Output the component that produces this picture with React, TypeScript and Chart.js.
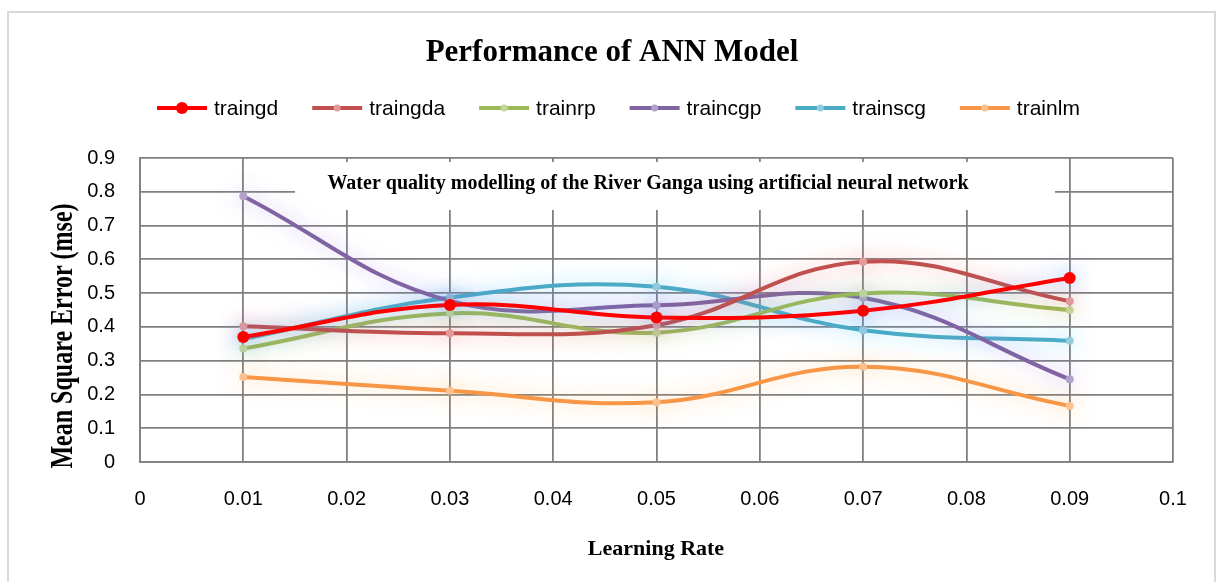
import React, { useEffect, useRef } from "react";
import { Chart, registerables } from "chart.js";

Chart.register(...registerables);

const learningRates = [0.01, 0.03, 0.05, 0.07, 0.09];
const traingd = [0.37, 0.465, 0.428, 0.448, 0.545];
const traingda = [0.402, 0.381, 0.405, 0.593, 0.476];
const trainrp = [0.336, 0.44, 0.383, 0.499, 0.45];
const traincgp = [0.787, 0.477, 0.464, 0.486, 0.245];
const trainscg = [0.364, 0.487, 0.519, 0.39, 0.359];
const trainlm = [0.252, 0.211, 0.177, 0.282, 0.166];

const seriesNames = ["traingd", "traingda", "trainrp", "traincgp", "trainscg", "trainlm"];
const seriesValues = [traingd, traingda, trainrp, traincgp, trainscg, trainlm];
const lineColors = ["#ff0000", "#c0504d", "#9bbb59", "#8064a2", "#4bacc6", "#f79646"];
const pointColors = ["#ff0000", "#e39a9a", "#c4d79b", "#b3a2c7", "#92cddc", "#fac08f"];
const glowColors = [
  "rgba(90,140,255,0.6)",
  "rgba(255,100,100,0.55)",
  "rgba(160,225,100,0.55)",
  "rgba(160,120,230,0.55)",
  "rgba(70,205,255,0.6)",
  "rgba(255,170,70,0.55)",
];

const xTickValues = [0, 0.01, 0.02, 0.03, 0.04, 0.05, 0.06, 0.07, 0.08, 0.09, 0.1];
const xTickLabels = ["0", "0.01", "0.02", "0.03", "0.04", "0.05", "0.06", "0.07", "0.08", "0.09", "0.1"];
const yTickValues = [0, 0.1, 0.2, 0.3, 0.4, 0.5, 0.6, 0.7, 0.8, 0.9];
const yTickLabels = ["0", "0.1", "0.2", "0.3", "0.4", "0.5", "0.6", "0.7", "0.8", "0.9"];

const chartTitle = "Performance of ANN Model";
const subTitle = "Water quality modelling of the River Ganga using artificial neural network";
const xTitle = "Learning Rate";
const yTitle = "Mean Square Error (mse)";

const SANS = "'Liberation Sans', Arial, sans-serif";
const SERIF = "'Liberation Serif', 'Times New Roman', serif";

const decorPlugin = {
  id: "decor",
  beforeDraw(chart: any) {
    const ctx = chart.ctx;
    ctx.save();
    ctx.fillStyle = "#ffffff";
    ctx.fillRect(0, 0, chart.width, chart.height);
    ctx.strokeStyle = "#d9d9d9";
    ctx.lineWidth = 2;
    ctx.strokeRect(8, 12, chart.width - 9, chart.height + 10);
    ctx.restore();
  },
  beforeDatasetsDraw(chart: any) {
    const ctx = chart.ctx;
    ctx.save();
    ctx.fillStyle = "#ffffff";
    ctx.fillRect(295, 162, 760, 48);
    ctx.fillStyle = "#000000";
    ctx.font = "bold 20px " + SERIF;
    ctx.textAlign = "center";
    ctx.textBaseline = "alphabetic";
    ctx.fillText(subTitle, 648, 189);
    ctx.restore();
  },
  beforeDatasetDraw(chart: any, args: any) {
    const ctx = chart.ctx;
    ctx.save();
    ctx.shadowColor = glowColors[args.index];
    ctx.shadowBlur = 20;
  },
  afterDatasetDraw(chart: any) {
    chart.ctx.restore();
  },
  afterDraw(chart: any) {
    const ctx = chart.ctx;
    ctx.save();
    ctx.fillStyle = "#000000";
    ctx.textAlign = "center";
    ctx.textBaseline = "alphabetic";
    ctx.font = "bold 31px " + SERIF;
    ctx.fillText(chartTitle, 612, 61);
    ctx.font = "bold 22px " + SERIF;
    ctx.fillText(xTitle, 656, 555);
    // y title
    ctx.save();
    ctx.translate(72, 336);
    ctx.rotate(-Math.PI / 2);
    ctx.scale(1, 1.3);
    ctx.font = "bold 24px " + SERIF;
    ctx.fillText(yTitle, 0, 0);
    ctx.restore();
    // legend
    ctx.font = "21px " + SANS;
    ctx.textAlign = "left";
    ctx.textBaseline = "middle";
    let x = 157;
    const y = 108;
    seriesNames.forEach((name, i) => {
      ctx.strokeStyle = lineColors[i];
      ctx.lineWidth = 4;
      ctx.beginPath();
      ctx.moveTo(x, y);
      ctx.lineTo(x + 50, y);
      ctx.stroke();
      ctx.fillStyle = pointColors[i];
      ctx.beginPath();
      ctx.arc(x + 25, y, i === 0 ? 6 : 3.5, 0, Math.PI * 2);
      ctx.fill();
      ctx.fillStyle = "#000000";
      ctx.fillText(name, x + 57, y + 1);
      x += 57 + ctx.measureText(name).width + 34;
    });
    ctx.restore();
  },
};

export default function App() {
  const canvasRef = useRef<HTMLCanvasElement | null>(null);

  useEffect(() => {
    document.body.style.margin = "0";
    const canvas = canvasRef.current;
    if (!canvas) return;
    const datasets = seriesNames.map((name, i) => ({
      label: name,
      data: learningRates.map((lr, j) => ({ x: lr, y: seriesValues[i][j] })),
      borderColor: lineColors[i],
      backgroundColor: pointColors[i],
      pointBackgroundColor: pointColors[i],
      pointBorderColor: pointColors[i],
      pointRadius: i === 0 ? 6 : 4,
      pointBorderWidth: 0,
      borderWidth: 4,
      tension: 0.4,
      fill: false,
    }));
    const gridColor = "#808080";
    const chart = new Chart(canvas, {
      type: "line",
      data: { datasets },
      plugins: [decorPlugin],
      options: {
        animation: false,
        responsive: false,
        maintainAspectRatio: false,
        layout: { padding: { top: 158, right: 43, left: 0, bottom: 0 } },
        plugins: {
          legend: { display: false },
          title: { display: false },
          tooltip: { enabled: false },
        },
        scales: {
          x: {
            type: "linear",
            min: 0,
            max: 0.1,
            afterFit: (scale: any) => {
              scale.height = 120;
            },
            afterBuildTicks: (scale: any) => {
              scale.ticks = xTickValues.map((v) => ({ value: v }));
            },
            ticks: {
              padding: 25,
              color: "#000000",
              font: { family: SANS, size: 20 },
              maxRotation: 0,
              autoSkip: false,
              callback: (_v: any, idx: number) => xTickLabels[idx],
            },
            grid: { color: gridColor, lineWidth: 1.8, drawTicks: false },
            border: { color: gridColor, width: 1.8 },
          },
          y: {
            type: "linear",
            min: 0,
            max: 0.9,
            afterFit: (scale: any) => {
              scale.width = 140;
            },
            afterBuildTicks: (scale: any) => {
              scale.ticks = yTickValues.map((v) => ({ value: v }));
            },
            ticks: {
              padding: 25,
              color: "#000000",
              font: { family: SANS, size: 20 },
              autoSkip: false,
              callback: (_v: any, idx: number) => yTickLabels[idx],
            },
            grid: { color: gridColor, lineWidth: 1.8, drawTicks: false },
            border: { color: gridColor, width: 1.8 },
          },
        },
      },
    });
    return () => chart.destroy();
  }, []);

  return (
    <div style={{ width: 1216, height: 582, position: "relative" }}>
      <canvas ref={canvasRef} width={1216} height={582} style={{ display: "block" }} />
    </div>
  );
}
